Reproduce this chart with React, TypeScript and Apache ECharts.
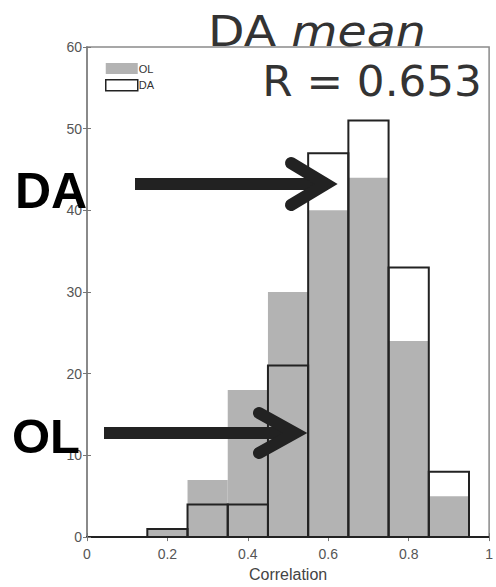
import React, { useEffect, useRef } from "react";
import * as echarts from "echarts";

// Histogram bin edges (correlation) and counts per bin
const binEdges = [0.15, 0.25, 0.35, 0.45, 0.55, 0.65, 0.75, 0.85, 0.95];
const olCounts = [1, 7, 18, 30, 40, 44, 24, 5];
const daCounts = [1, 4, 4, 21, 47, 51, 33, 8];
const xTicks = [0, 0.2, 0.4, 0.6, 0.8, 1];
const yTicks = [0, 10, 20, 30, 40, 50, 60];

const GRAY = "#b3b3b3";
const INK = "#222222";

function binRows(counts: number[]) {
  return counts.map((c, i) => [binEdges[i], binEdges[i + 1], c]);
}

function rectItem(style: any) {
  return (params: any, api: any) => {
    const x0 = api.value(0);
    const x1 = api.value(1);
    const y = api.value(2);
    const top = api.coord([x0, y]);
    const base = api.coord([x1, 0]);
    return {
      type: "rect",
      shape: { x: top[0], y: top[1], width: base[0] - top[0], height: base[1] - top[1] },
      style,
    };
  };
}

export default function App() {
  const ref = useRef<HTMLDivElement>(null);

  useEffect(() => {
    if (!ref.current) return;
    const chart = echarts.init(ref.current, undefined, { renderer: "svg" });
    const labelFont = "'Liberation Sans', Arial, sans-serif";
    const titleFont = "'DejaVu Sans', sans-serif";

    chart.setOption({
      animation: false,
      backgroundColor: "#ffffff",
      grid: {
        left: 87,
        right: 4,
        top: 47,
        bottom: 46,
        show: true,
        borderColor: "#8a8a8a",
        borderWidth: 1.5,
      },
      xAxis: [
        {
          type: "value",
          min: xTicks[0],
          max: xTicks[xTicks.length - 1],
          interval: 0.2,
          name: "Correlation",
          nameLocation: "middle",
          nameGap: 28,
          nameTextStyle: { fontFamily: labelFont, fontSize: 16, color: "#444" },
          axisLine: { show: true, onZero: false, lineStyle: { color: INK, width: 2 } },
          axisTick: { show: true, inside: true, length: 4, lineStyle: { color: "#777" } },
          axisLabel: { fontFamily: labelFont, fontSize: 14, color: "#555", margin: 10 },
          splitLine: { show: false },
        },
        {
          type: "value",
          position: "top",
          min: xTicks[0],
          max: xTicks[xTicks.length - 1],
          interval: 0.2,
          axisLine: { show: false },
          axisTick: { show: true, inside: true, length: 4, lineStyle: { color: "#777" } },
          axisLabel: { show: false },
          splitLine: { show: false },
        },
      ],
      yAxis: [
        {
          type: "value",
          min: yTicks[0],
          max: yTicks[yTicks.length - 1],
          interval: 10,
          axisLine: { show: true, lineStyle: { color: "#8a8a8a", width: 2 } },
          axisTick: { show: true, inside: true, length: 4, lineStyle: { color: "#777" } },
          axisLabel: { fontFamily: labelFont, fontSize: 14, color: "#555", margin: 5 },
          splitLine: { show: false },
        },
        {
          type: "value",
          position: "right",
          min: yTicks[0],
          max: yTicks[yTicks.length - 1],
          interval: 10,
          axisLine: { show: false },
          axisTick: { show: true, inside: true, length: 4, lineStyle: { color: "#777" } },
          axisLabel: { show: false },
          splitLine: { show: false },
        },
      ],
      legend: {
        left: 105,
        top: 63,
        padding: 0,
        orient: "vertical",
        itemWidth: 32,
        itemHeight: 11,
        itemGap: 5,
        icon: "rect",
        textStyle: { fontFamily: labelFont, fontSize: 11, color: "#333", padding: [0, 0, 0, -4] },
        data: [
          { name: "OL", itemStyle: { color: GRAY, borderWidth: 0 } },
          { name: "DA", itemStyle: { color: "#ffffff", borderColor: INK, borderWidth: 1.5 } },
        ],
      },
      series: [
        {
          name: "OL",
          type: "custom",
          renderItem: rectItem({ fill: GRAY }),
          encode: { x: [0, 1], y: 2 },
          data: binRows(olCounts),
          itemStyle: { color: GRAY },
          z: 2,
        },
        {
          name: "DA",
          type: "custom",
          renderItem: rectItem({ fill: "none", stroke: INK, lineWidth: 2 }),
          encode: { x: [0, 1], y: 2 },
          data: binRows(daCounts),
          itemStyle: { color: "#ffffff", borderColor: INK },
          z: 3,
        },
      ],
      graphic: [
        {
          type: "text",
          x: 317,
          y: 31,
          scaleX: 1.13,
          style: {
            text: "{n|DA }{i|mean}",
            textAlign: "center",
            textVerticalAlign: "middle",
            rich: {
              n: { fontFamily: titleFont, fontSize: 42, fill: "#333" },
              i: { fontFamily: titleFont, fontSize: 42, fontStyle: "italic", fill: "#333" },
            },
          },
          z: 10,
        },
        {
          type: "text",
          x: 372,
          y: 81,
          scaleX: 1.04,
          style: {
            text: "R = 0.653",
            textAlign: "center",
            textVerticalAlign: "middle",
            fontFamily: titleFont,
            fontSize: 42,
            fill: "#333",
          },
          z: 10,
        },
        {
          type: "text",
          x: 51,
          y: 191,
          style: {
            text: "DA",
            textAlign: "center",
            textVerticalAlign: "middle",
            fontFamily: labelFont,
            fontWeight: "bold",
            fontSize: 50,
            fill: "#000",
          },
          z: 10,
        },
        {
          type: "text",
          x: 46,
          y: 436,
          style: {
            text: "OL",
            textAlign: "center",
            textVerticalAlign: "middle",
            fontFamily: labelFont,
            fontWeight: "bold",
            fontSize: 49,
            fill: "#000",
          },
          z: 10,
        },
        // DA arrow
        {
          type: "polyline",
          shape: { points: [[135, 184], [320, 184]] },
          style: { stroke: INK, lineWidth: 12, lineCap: "butt" },
          z: 10,
        },
        {
          type: "polyline",
          shape: { points: [[291, 163], [326, 184], [291, 205]] },
          style: { stroke: INK, lineWidth: 12, lineCap: "round", lineJoin: "miter", fill: "none" },
          z: 10,
        },
        // OL arrow
        {
          type: "polyline",
          shape: { points: [[104, 433], [290, 433]] },
          style: { stroke: INK, lineWidth: 12, lineCap: "butt" },
          z: 10,
        },
        {
          type: "polyline",
          shape: { points: [[259, 413], [295, 433], [259, 453]] },
          style: { stroke: INK, lineWidth: 12, lineCap: "round", lineJoin: "miter", fill: "none" },
          z: 10,
        },
      ],
    });

    return () => chart.dispose();
  }, []);

  return <div ref={ref} style={{ width: 496, height: 587, position: "absolute", left: 0, top: 0 }} />;
}
